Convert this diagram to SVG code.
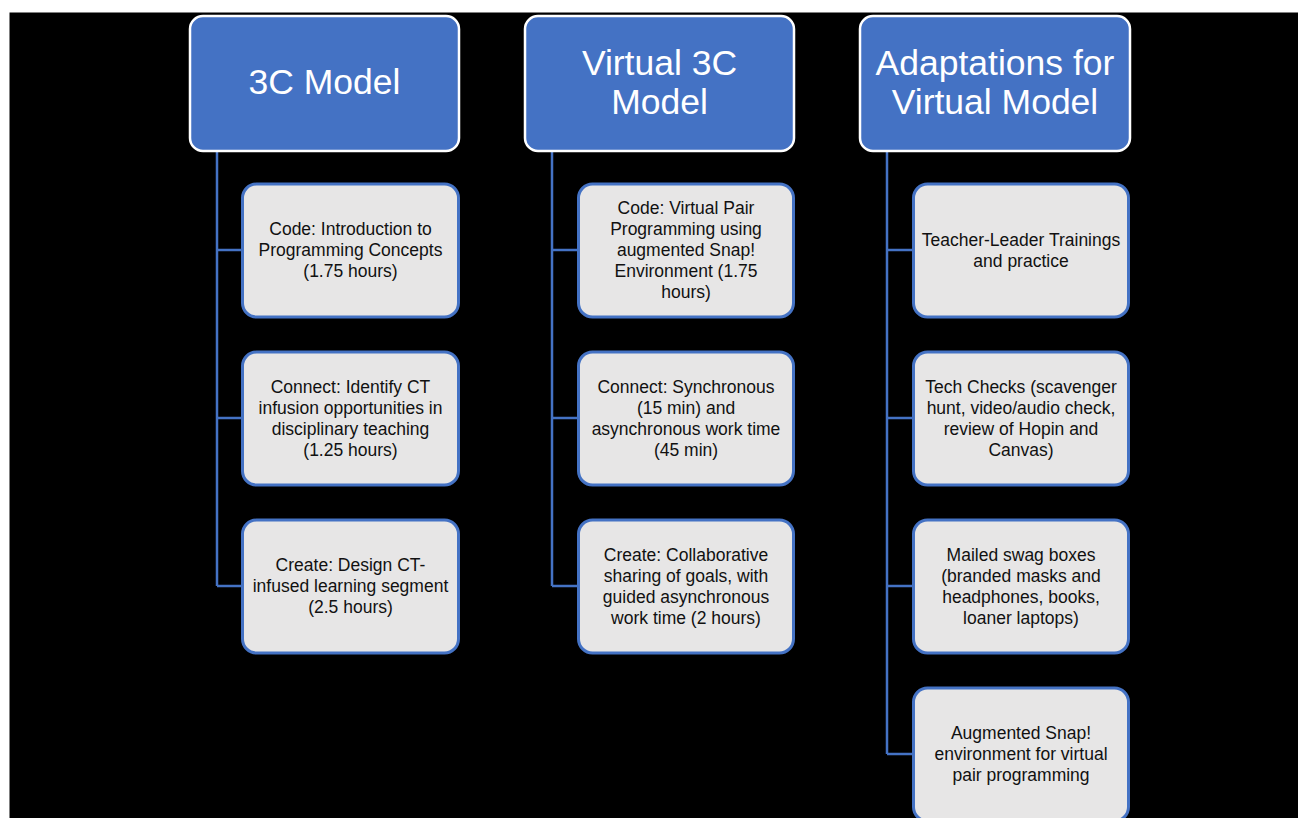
<svg xmlns="http://www.w3.org/2000/svg" width="1298" height="818" viewBox="0 0 1298 818">
<style>
.hdr{fill:#4472C4;stroke:#FFFFFF;stroke-width:2.5}
.box{fill:#E7E6E6;stroke:#4472C4;stroke-width:3}
.ht{font-family:"Liberation Sans",Arial,sans-serif;font-size:35.5px;fill:#FFFFFF;text-anchor:middle;dominant-baseline:central}
.bt{font-family:"Liberation Sans",Arial,sans-serif;font-size:17.5px;fill:#111111;text-anchor:middle;dominant-baseline:central}
.conn{fill:none;stroke:#4472C4;stroke-width:2.5}
</style>
<rect x="0" y="0" width="1298" height="818" fill="#FFFFFF"/>
<rect x="9.5" y="12.5" width="1290" height="810" fill="#000000"/>
<g id="connectors">
<path class="conn" d="M217,151 V586 M217,250 H242 M217,418 H242 M217,586 H242"/>
<path class="conn" d="M552,151 V586 M552,250 H578 M552,418 H578 M552,586 H578"/>
<path class="conn" d="M887,151 V754 M887,250 H913 M887,418 H913 M887,586 H913 M887,754 H913"/>
</g>
<g id="h1"><rect class="hdr" x="190" y="16" width="269" height="135" rx="13"/><text class="ht" x="324.5" y="82">3C Model</text></g>
<g id="h2"><rect class="hdr" x="525" y="16" width="269" height="135" rx="13"/><text class="ht" x="659.5" y="63">Virtual 3C</text><text class="ht" x="659.5" y="102">Model</text></g>
<g id="h3"><rect class="hdr" x="860" y="16" width="270" height="135" rx="13"/><text class="ht" x="995" y="63">Adaptations for</text><text class="ht" x="995" y="102">Virtual Model</text></g>

<g id="c1a"><rect class="box" x="242.5" y="184" width="216" height="133" rx="14"/><text class="bt" x="350.5" y="229">Code: Introduction to</text><text class="bt" x="350.5" y="250">Programming Concepts</text><text class="bt" x="350.5" y="271">(1.75 hours)</text></g>
<g id="c1b"><rect class="box" x="242.5" y="352" width="216" height="133" rx="14"/><text class="bt" x="350.5" y="386.5">Connect: Identify CT</text><text class="bt" x="350.5" y="407.5">infusion opportunities in</text><text class="bt" x="350.5" y="428.5">disciplinary teaching</text><text class="bt" x="350.5" y="449.5">(1.25 hours)</text></g>
<g id="c1c"><rect class="box" x="242.5" y="520" width="216" height="133" rx="14"/><text class="bt" x="350.5" y="565">Create: Design CT-</text><text class="bt" x="350.5" y="586">infused learning segment</text><text class="bt" x="350.5" y="607">(2.5 hours)</text></g>

<g id="c2a"><rect class="box" x="578.5" y="184" width="215" height="133" rx="14"/><text class="bt" x="686" y="208">Code: Virtual Pair</text><text class="bt" x="686" y="229">Programming using</text><text class="bt" x="686" y="250">augmented Snap!</text><text class="bt" x="686" y="271">Environment (1.75</text><text class="bt" x="686" y="292">hours)</text></g>
<g id="c2b"><rect class="box" x="578.5" y="352" width="215" height="133" rx="14"/><text class="bt" x="686" y="386.5">Connect: Synchronous</text><text class="bt" x="686" y="407.5">(15 min) and</text><text class="bt" x="686" y="428.5">asynchronous work time</text><text class="bt" x="686" y="449.5">(45 min)</text></g>
<g id="c2c"><rect class="box" x="578.5" y="520" width="215" height="133" rx="14"/><text class="bt" x="686" y="554.5">Create: Collaborative</text><text class="bt" x="686" y="575.5">sharing of goals, with</text><text class="bt" x="686" y="596.5">guided asynchronous</text><text class="bt" x="686" y="617.5">work time (2 hours)</text></g>

<g id="c3a"><rect class="box" x="913.5" y="184" width="215" height="133" rx="14"/><text class="bt" x="1021" y="239.5">Teacher-Leader Trainings</text><text class="bt" x="1021" y="260.5">and practice</text></g>
<g id="c3b"><rect class="box" x="913.5" y="352" width="215" height="133" rx="14"/><text class="bt" x="1021" y="386.5">Tech Checks (scavenger</text><text class="bt" x="1021" y="407.5">hunt, video/audio check,</text><text class="bt" x="1021" y="428.5">review of Hopin and</text><text class="bt" x="1021" y="449.5">Canvas)</text></g>
<g id="c3c"><rect class="box" x="913.5" y="520" width="215" height="133" rx="14"/><text class="bt" x="1021" y="554.5">Mailed swag boxes</text><text class="bt" x="1021" y="575.5">(branded masks and</text><text class="bt" x="1021" y="596.5">headphones, books,</text><text class="bt" x="1021" y="617.5">loaner laptops)</text></g>
<g id="c3d"><rect class="box" x="913.5" y="688" width="215" height="133" rx="14"/><text class="bt" x="1021" y="733">Augmented Snap!</text><text class="bt" x="1021" y="754">environment for virtual</text><text class="bt" x="1021" y="775">pair programming</text></g>
</svg>
